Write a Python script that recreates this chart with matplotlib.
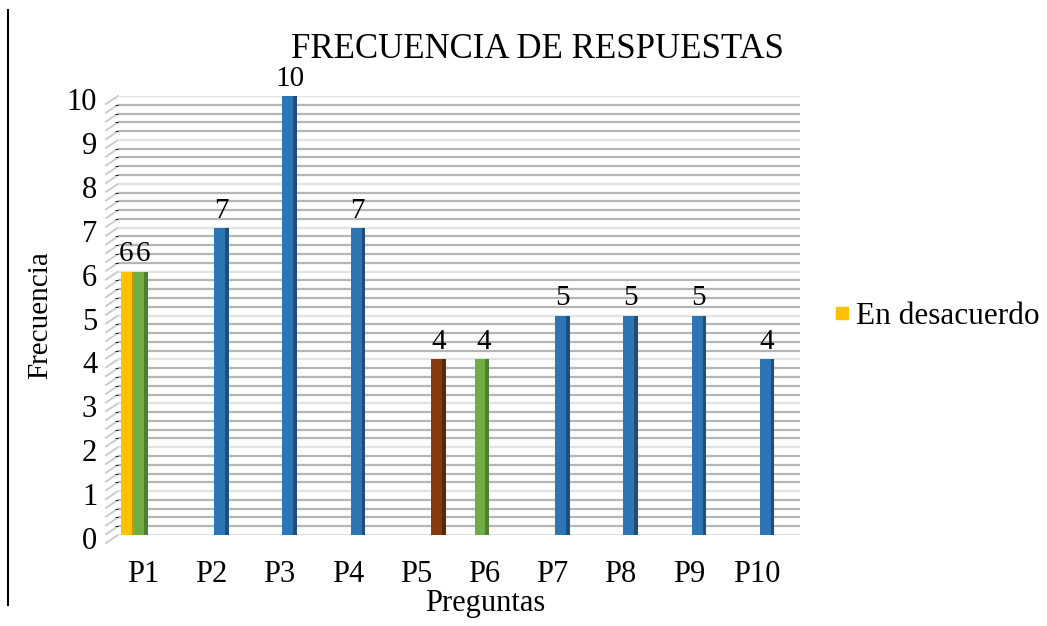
import matplotlib.pyplot as plt
import numpy as np
from matplotlib.lines import Line2D
from matplotlib.ticker import MultipleLocator
from matplotlib.transforms import ScaledTranslation

plt.rcParams["font.family"] = ["Liberation Serif", "DejaVu Serif"]

preguntas = ["P1", "P2", "P3", "P4", "P5", "P6", "P7", "P8", "P9", "P10"]

# one series per colour, zero where the bar is absent
en_desacuerdo = [6, 0, 0, 0, 0, 0, 0, 0, 0, 0]
serie_verde = [6, 0, 0, 0, 0, 4, 0, 0, 0, 0]
serie_azul = [0, 7, 10, 7, 0, 0, 5, 5, 5, 4]
serie_marron = [0, 0, 0, 0, 4, 0, 0, 0, 0, 0]

# (values, front colour, side colour, label nudge in points)
series = [
    (en_desacuerdo, "#FFC000", "#C99700", -1.3),
    (serie_verde, "#70AD47", "#4E7F30", 1.3),
    (serie_azul, "#2E75B6", "#1F4E79", 0),
    (serie_marron, "#843C0C", "#5A2806", 0),
]

W, H = 1047, 626
fig = plt.figure(figsize=(W / 100, H / 100), dpi=100)
ax = fig.add_axes([118 / W, 1 - 535 / H, (800 - 118) / W, (535 - 96) / H])

x0 = np.arange(len(preguntas))
base, step = -0.22, 0.183
bar_w, side_w = 0.21, 0.05

for k, (vals, color, side_color, nudge) in enumerate(series):
    vals = np.array(vals)
    keep = vals > 0
    x = x0[keep] + base + k * step
    v = vals[keep]
    ax.bar(x, v, width=bar_w, color=side_color, zorder=3)
    ax.bar(x - side_w / 2, v, width=bar_w - side_w, color=color, zorder=4)
    for xi, vi in zip(x, v):
        ax.annotate(str(vi), (xi, vi), xytext=(nudge, 3), textcoords="offset points",
                    ha="center", va="bottom", fontsize=21, zorder=5)

ax.set_xlim(-0.37, 9.63)
ax.set_ylim(0, 10)

ax.yaxis.set_major_locator(MultipleLocator(1))
ax.yaxis.set_minor_locator(MultipleLocator(0.2))
ax.grid(axis="y", which="major", color="#e2e2e2", lw=1.6, zorder=0)
ax.grid(axis="y", which="minor", color="#b5b5b5", lw=1.6, zorder=0)

# slanted side wall lines on the left
dx, dy = 12 / 68.2, 8 / 43.9
for yv in np.arange(0, 10.001, 0.2):
    ax.plot([-0.37 - dx, -0.37], [yv - dy, yv], color="#c8c8c8", lw=1.3,
            clip_on=False, zorder=0)

ax.set_xticks(x0)
ax.set_xticklabels(preguntas)
ax.tick_params(axis="both", length=0, labelsize=22)
ax.tick_params(axis="x", pad=18)
ax.tick_params(axis="y", pad=15)
for lab in ax.get_yticklabels():
    lab.set_transform(lab.get_transform() + ScaledTranslation(0, -0.03, fig.dpi_scale_trans))
for s in ax.spines.values():
    s.set_visible(False)

fig.text(537 / W, 1 - 50 / H, "FRECUENCIA DE RESPUESTAS", ha="center", va="center", fontsize=25)
fig.text(40 / W, 1 - 315 / H, "Frecuencia", rotation=90, ha="center", va="center", fontsize=21)
fig.text(485 / W, 1 - 603 / H, "Preguntas", ha="center", va="center", fontsize=22)

handle = Line2D([], [], marker="s", ls="", color="#FFC000", markersize=9)
fig.legend([handle], ["En desacuerdo"], loc="center left",
           bbox_to_anchor=(831 / W, 1 - 316 / H), frameon=False, fontsize=22.5,
           handlelength=0.7, handletextpad=0.1, borderpad=0, borderaxespad=0)

fig.add_artist(Line2D([8 / W, 8 / W], [1 - 10 / H, 1 - 605 / H], color="black", lw=1.5,
                      transform=fig.transFigure))

fig.savefig("out.png", dpi=100)
